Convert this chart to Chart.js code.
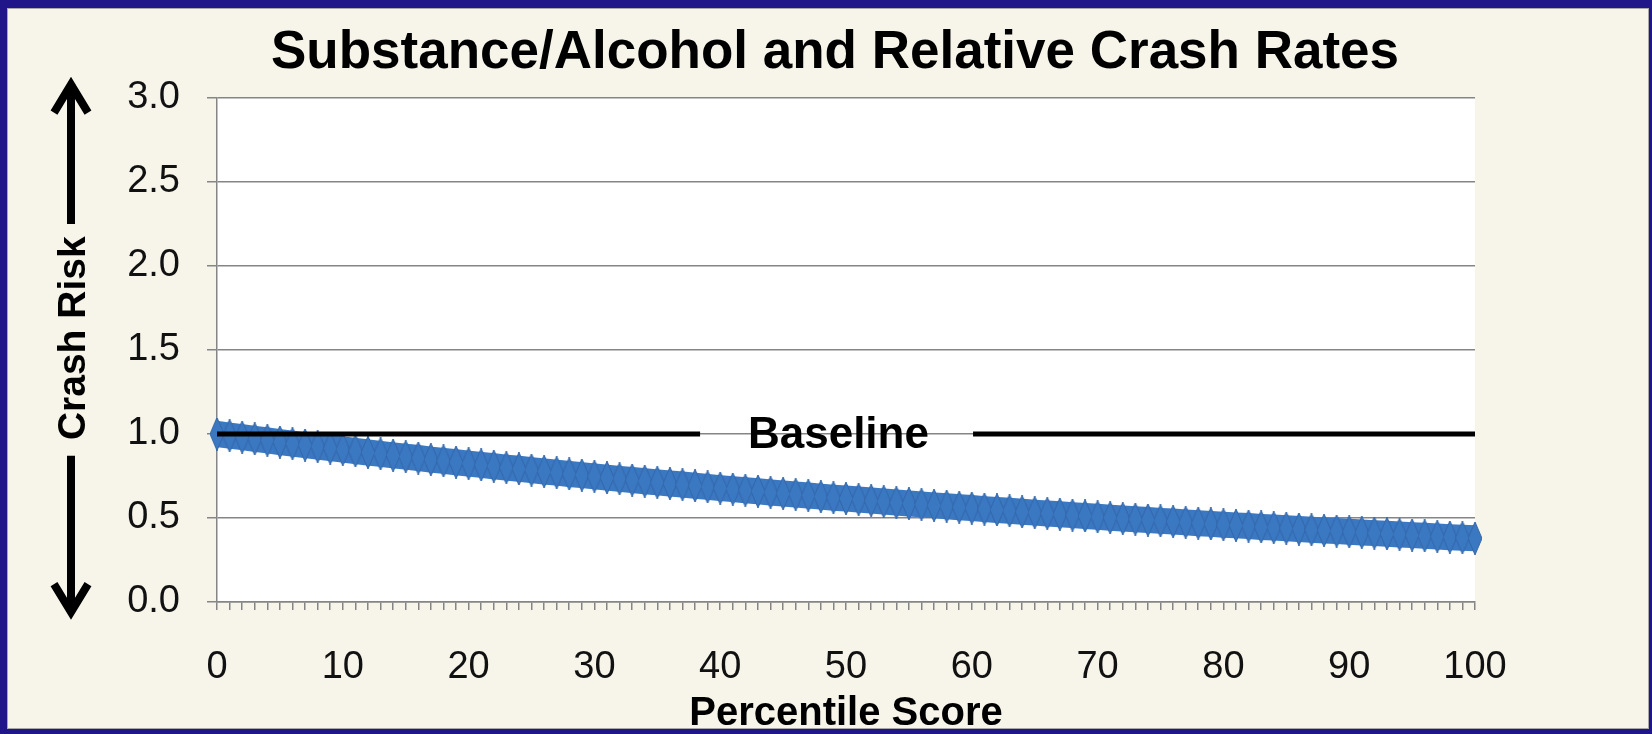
<!DOCTYPE html>
<html>
<head>
<meta charset="utf-8">
<title>Substance/Alcohol and Relative Crash Rates</title>
<script src="https://cdn.jsdelivr.net/npm/chart.js@4.4.1/dist/chart.umd.min.js"></script>
<style>
  html, body { margin: 0; padding: 0; }
  body { width: 1652px; height: 734px; background: #20168a; overflow: hidden; position: relative; }
  #frame { position: absolute; left: 7px; top: 8px; width: 1642px; height: 721px; box-sizing: border-box;
           border: 1px solid #a8a8a8; background: #f7f5ea; }
  #chart { position: absolute; left: 0; top: 0; }
</style>
</head>
<body>
<div id="frame"><canvas id="chart" width="1640" height="719"></canvas></div>
<script>
const chartTitle = 'Substance/Alcohol and Relative Crash Rates';
const xAxisTitle = 'Percentile Score';
const yAxisTitle = 'Crash Risk';
const baselineLabel = 'Baseline';

// percentile score (x) and relative crash risk (y)
const percentile = [
    0, 1, 2, 3, 4, 5, 6, 7, 8, 9,
    10, 11, 12, 13, 14, 15, 16, 17, 18, 19,
    20, 21, 22, 23, 24, 25, 26, 27, 28, 29,
    30, 31, 32, 33, 34, 35, 36, 37, 38, 39,
    40, 41, 42, 43, 44, 45, 46, 47, 48, 49,
    50, 51, 52, 53, 54, 55, 56, 57, 58, 59,
    60, 61, 62, 63, 64, 65, 66, 67, 68, 69,
    70, 71, 72, 73, 74, 75, 76, 77, 78, 79,
    80, 81, 82, 83, 84, 85, 86, 87, 88, 89,
    90, 91, 92, 93, 94, 95, 96, 97, 98, 99,
    100
];
const crashRisk = [
    1.000, 0.990, 0.981, 0.971, 0.962, 0.952, 0.943, 0.934, 0.925, 0.916,
    0.908, 0.899, 0.890, 0.882, 0.873, 0.865, 0.857, 0.848, 0.840, 0.832,
    0.824, 0.816, 0.808, 0.800, 0.793, 0.785, 0.777, 0.770, 0.762, 0.755,
    0.748, 0.740, 0.733, 0.726, 0.719, 0.712, 0.705, 0.699, 0.692, 0.685,
    0.678, 0.672, 0.665, 0.659, 0.652, 0.646, 0.640, 0.634, 0.627, 0.621,
    0.616, 0.610, 0.604, 0.598, 0.592, 0.586, 0.581, 0.575, 0.570, 0.564,
    0.559, 0.553, 0.548, 0.543, 0.537, 0.532, 0.527, 0.522, 0.517, 0.512,
    0.507, 0.502, 0.497, 0.493, 0.488, 0.483, 0.479, 0.474, 0.469, 0.465,
    0.460, 0.456, 0.452, 0.447, 0.443, 0.439, 0.434, 0.430, 0.426, 0.422,
    0.418, 0.414, 0.410, 0.406, 0.402, 0.398, 0.394, 0.390, 0.386, 0.383,
    0.379
];

// baseline at 1.0, broken where the label sits
const baselineLevel = 1.0;
const baselineLeft = [0, 38.4];
const baselineRight = [60.1, 100];
const baselineLabelAt = 49.4;

const xTickLabels = [0, 10, 20, 30, 40, 50, 60, 70, 80, 90, 100];
const yTickStep = 0.5;

const FONT = '"Liberation Sans", Arial, Helvetica, sans-serif';
const BLUE = '#3b78c2';
const GRID = '#858585';

// tall diamond marker
function makeDiamond() {
    const c = document.createElement('canvas');
    c.width = 14;
    c.height = 33;
    const g = c.getContext('2d');
    g.beginPath();
    g.moveTo(7, 0);
    g.lineTo(14, 16.5);
    g.lineTo(7, 33);
    g.lineTo(0, 16.5);
    g.closePath();
    g.fillStyle = BLUE;
    g.fill();
    g.strokeStyle = '#3467a9';
    g.lineWidth = 1;
    g.stroke();
    return c;
}

function drawArrow(ctx, x, yTail, yTip) {
    const dir = yTip < yTail ? -1 : 1;
    ctx.beginPath();
    ctx.moveTo(x, yTail);
    ctx.lineTo(x, yTip);
    ctx.moveTo(x - 17, yTip - dir * 28);
    ctx.lineTo(x, yTip);
    ctx.lineTo(x + 17, yTip - dir * 28);
    ctx.stroke();
}

const decorations = {
    id: 'decorations',
    beforeDraw(chart) {
        const {ctx, chartArea: a} = chart;
        ctx.save();
        ctx.fillStyle = '#ffffff';
        ctx.fillRect(a.left, a.top, a.right - a.left, a.bottom - a.top);
        ctx.restore();
    },
    afterDraw(chart) {
        const {ctx} = chart;
        const x = chart.scales.x;
        const y = chart.scales.y;
        ctx.save();
        ctx.fillStyle = '#000';
        ctx.textAlign = 'center';
        ctx.textBaseline = 'middle';

        // title
        ctx.font = 'bold 53px ' + FONT;
        ctx.fillText(chartTitle, 827, 44);

        // baseline label
        ctx.font = 'bold 44px ' + FONT;
        ctx.fillText(baselineLabel, x.getPixelForValue(baselineLabelAt), y.getPixelForValue(baselineLevel) + 2);

        // y axis title with arrows
        ctx.save();
        ctx.translate(66, y.getPixelForValue(1.57));
        ctx.rotate(-Math.PI / 2);
        ctx.font = 'bold 39px ' + FONT;
        ctx.fillText(yAxisTitle, 0, 0);
        ctx.restore();

        ctx.strokeStyle = '#000';
        ctx.lineWidth = 8;
        ctx.lineJoin = 'miter';
        drawArrow(ctx, 63, y.getPixelForValue(2.25), y.getPixelForValue(3.08));
        drawArrow(ctx, 63, y.getPixelForValue(0.87), y.getPixelForValue(-0.06));
        ctx.restore();
    }
};

function riskPoints() {
    return percentile.map((p, i) => ({x: p, y: crashRisk[i]}));
}

new Chart(document.getElementById('chart'), {
    type: 'scatter',
    data: {
        datasets: [
            {
                label: 'baseline-left',
                data: baselineLeft.map(v => ({x: v, y: baselineLevel})),
                showLine: true,
                borderColor: '#000',
                borderWidth: 5,
                pointRadius: 0,
                order: 0
            },
            {
                label: 'baseline-right',
                data: baselineRight.map(v => ({x: v, y: baselineLevel})),
                showLine: true,
                borderColor: '#000',
                borderWidth: 5,
                pointRadius: 0,
                order: 0
            },
            {
                label: 'Crash risk',
                data: riskPoints(),
                showLine: true,
                borderColor: BLUE,
                borderWidth: 26,
                borderCapStyle: 'butt',
                pointStyle: makeDiamond(),
                pointRadius: 8,
                clip: false,
                order: 1
            }
        ]
    },
    options: {
        responsive: false,
        animation: false,
        layout: {
            padding: {top: 89, right: 173, bottom: 0, left: 0}
        },
        scales: {
            x: {
                type: 'linear',
                min: 0,
                max: 100,
                grid: {
                    drawOnChartArea: false,
                    drawTicks: true,
                    tickLength: 8,
                    color: GRID,
                    lineWidth: 1.5
                },
                border: {display: true, color: GRID, width: 1.5},
                ticks: {
                    stepSize: 1,
                    autoSkip: false,
                    maxRotation: 0,
                    padding: 35,
                    color: '#111',
                    font: {family: FONT, size: 38},
                    callback: v => xTickLabels.includes(v) ? String(v) : ''
                },
                title: {
                    display: true,
                    text: xAxisTitle,
                    color: '#000',
                    font: {family: FONT, size: 40, weight: 'bold'},
                    padding: {top: 0, bottom: -10}
                },
                afterFit: scale => { scale.height = 126; }
            },
            y: {
                min: 0,
                max: 3,
                grid: {
                    color: GRID,
                    lineWidth: 1.5,
                    tickLength: 10
                },
                border: {display: true, color: GRID, width: 1.5},
                ticks: {
                    stepSize: yTickStep,
                    padding: 27,
                    color: '#111',
                    font: {family: FONT, size: 38},
                    callback: v => v.toFixed(1)
                },
                afterFit: scale => { scale.width = 209; }
            }
        },
        plugins: {
            legend: {display: false},
            tooltip: {enabled: false},
            title: {display: false}
        }
    },
    plugins: [decorations]
});
</script>
</body>
</html>
